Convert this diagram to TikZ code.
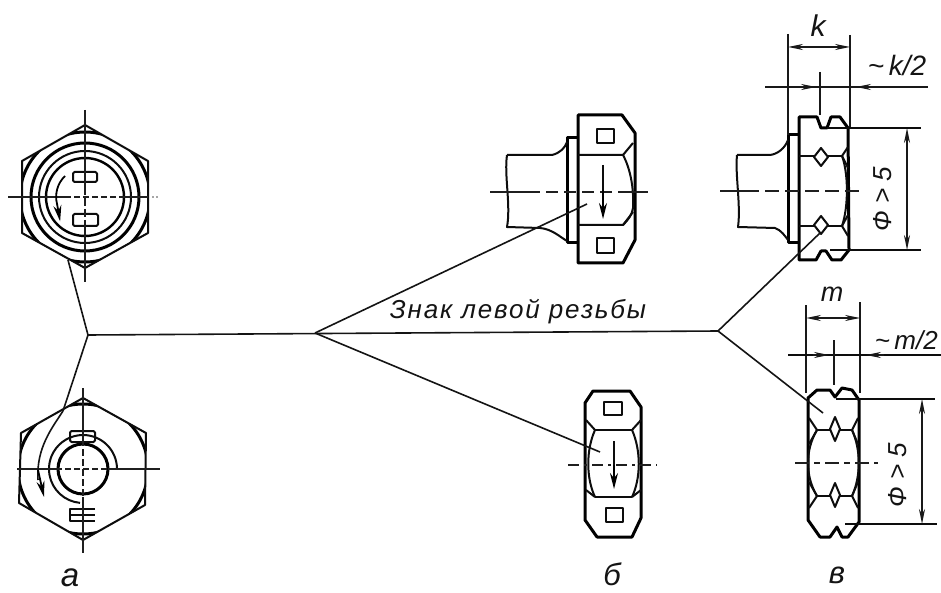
\documentclass[tikz,border=0pt]{standalone}
\usepackage{fontspec}
\setmainfont{Liberation Sans}
\usetikzlibrary{arrows.meta}
\tikzset{
  thin line/.style={line width=1.3pt,black!90},
  mid line/.style={line width=2pt,black!95,line join=round},
  thick line/.style={line width=3pt,black,line join=round},
  axis line/.style={line width=1.4pt,black!88},
  leader line/.style={line width=1.6pt,black!92},
  dim both/.style={line width=1.3pt,black!90,{Stealth[length=15pt,width=6pt]}-{Stealth[length=15pt,width=6pt]}},
  dim tip/.style={line width=1.3pt,black!90,-{Stealth[length=15pt,width=6pt]}},
  turn tip/.style={line width=1.8pt,black,-{Stealth[length=16pt,width=8pt]}},
  lbl/.style={font=\itshape,text=black!92,inner sep=0pt},
}
\begin{document}
\begin{tikzpicture}[x=1pt,y=-1pt]
\useasboundingbox (0,0) rectangle (941,593);
\fill[white] (0,0) rectangle (941,593);

% ---------- named leader junctions and ends
\coordinate (j1) at (88,335);
\coordinate (j2) at (315,333);
\coordinate (j3) at (718,331);
\coordinate (endA) at (68,260);
\coordinate (endB) at (63,411);
\coordinate (endC) at (587,204);
\coordinate (endD) at (600,452);
\coordinate (endE) at (820,233);
\coordinate (endF) at (823,413);

% ---------- upper nut (a)
\begin{scope}[shift={(85,197)}]
  \begin{scope}
    \clip (0,-72) -- (63,-36) -- (63,36) -- (0,71) -- (-63,36) -- (-63,-36) -- cycle;
    \draw[thick line] (0,0) circle (65);
  \end{scope}
  \draw[mid line] (0,-72) -- (63,-36) -- (63,36) -- (0,71) -- (-63,36) -- (-63,-36) -- cycle;
  \draw[thick line] (0,0) circle (54);
  \draw[mid line] (0,0) circle (46);
  \draw[thick line,line width=2.4pt] (0,0) circle (39);
  \draw[mid line,rounded corners=1.5pt] (-12,-25) rectangle (12,-15);
  \draw[mid line,rounded corners=1.5pt] (-12,17) rectangle (13,29);
  \draw[axis line] (-77,0) -- (-20,0);
  \draw[axis line,dash pattern=on 6pt off 3pt] (-20,0) -- (37,0);
  \draw[axis line] (37,0) -- (63,0);
  \fill[black!70] (68,0) circle (0.8) (72,0) circle (0.8);
  \draw[axis line] (0,-87) -- (0,-10);
  \draw[axis line,dash pattern=on 8pt off 3pt] (0,-10) -- (0,30);
  \draw[axis line] (0,30) -- (0,85);
  \draw[turn tip] (-20,-21) arc[start angle=226,end angle=165,radius=29] -- ++(3,17);
\end{scope}

% ---------- lower nut (a)
\begin{scope}[shift={(83,469)}]
  \begin{scope}
    \clip (0,-71) -- (63,-36) -- (62,36) -- (0,71) -- (-64,34) -- (-62,-36) -- cycle;
    \draw[thick line] (0,0) circle (65);
  \end{scope}
  \draw[mid line] (0,-71) -- (63,-36) -- (62,36) -- (0,71) -- (-64,34) -- (-62,-36) -- cycle;
  \draw[thick line] (0,0) circle (25);
  \draw[mid line] (34,0) arc[start angle=0,end angle=-190,radius=34] arc[start angle=170,end angle=95,radius=34];
  \draw[mid line,rounded corners=1.5pt] (-13,-38) rectangle (12,-27);
  \draw[mid line] (12,40) -- (-13,40) -- (-13,52) -- (12,52);
  \draw[mid line] (-13,46) -- (12,46);
  \draw[axis line] (-66,0) -- (-27,0);
  \draw[axis line,dash pattern=on 6pt off 3pt] (-27,0) -- (25,0);
  \draw[axis line] (25,0) -- (77,0);
  \draw[axis line] (0,-81) -- (0,-30);
  \draw[axis line,dash pattern=on 7pt off 3pt] (0,-30) -- (0,28);
  \draw[axis line] (0,28) -- (0,84);
\end{scope}
\draw[leader line] (endB) .. controls (52,428) and (36,448) .. (38,480);
\draw[turn tip] (38,470) -- (44,497);

% ---------- side view (б), upper
\draw[thick line] (578,115) -- (622,115) -- (635,133) -- (635,240) -- (623,263) -- (578,263) -- cycle;
\draw[mid line] (578,155) -- (623,155) -- (633,143);
\draw[mid line] (578,225) -- (623,225) -- (633,212);
\draw[mid line] (623,155) .. controls (631,170) and (634,190) .. (633,208) .. controls (632,215) and (628,220) .. (623,225);
\draw[mid line] (597,129) rectangle (614,143);
\draw[mid line] (597,238) rectangle (614,253);
\draw[thick line] (578,138) -- (567,138) -- (567,243) -- (578,243);
\draw[mid line] (507,155) -- (552,155) .. controls (560,153) and (565,148) .. (567,142);
\draw[mid line] (507,155) .. controls (504,175) and (511,205) .. (507,227) -- (540,228) .. controls (552,229) and (560,237) .. (567,241);
\draw[axis line] (490,192) -- (528,192);
\draw[axis line,dash pattern=on 12pt off 6pt] (528,192) -- (630,192);
\draw[axis line] (630,192) -- (648,192);
\draw[mid line] (603,165) -- (603,215);
\draw[turn tip] (603,190) -- (603,219);

% ---------- side view (б), lower
\draw[thick line] (593,391) -- (630,391) -- (641,407) -- (641,518) -- (632,537) -- (597,537) -- (585,520) -- (585,403) -- cycle;
\draw[mid line] (595,430) -- (632,430) (595,497) -- (632,497);
\draw[mid line] (586,420) -- (595,430) (641,420) -- (632,430);
\draw[mid line] (586,490) -- (595,497) (641,490) -- (632,497);
\draw[mid line] (595,430) .. controls (586,450) and (586,478) .. (595,497);
\draw[mid line] (632,430) .. controls (641,450) and (641,478) .. (632,497);
\draw[mid line] (604,402) rectangle (622,415);
\draw[mid line] (606,508) rectangle (623,522);
\draw[axis line,dash pattern=on 11pt off 5pt on 3pt off 5pt] (568,465) -- (657,465);
\draw[mid line] (614,441) -- (614,470);
\draw[turn tip] (614,465) -- (614,489);

% ---------- right upper view (в)
\draw[thick line] (799,117) -- (817,117) -- (821,128) -- (827,128) -- (831,117) -- (840,117) -- (848,128) -- (849,250) -- (841,260) -- (832,260) -- (826,251) -- (821,251) -- (816,260) -- (799,260) -- cycle;
\draw[mid line] (827,128) -- (849,128);
\draw[mid line] (830,250) -- (849,250);
\draw[mid line] (799,156) -- (814,156) (828,156) -- (842,156);
\draw[mid line] (799,226) -- (814,226) (828,226) -- (842,226);
\draw[mid line] (821,148) -- (828,157) -- (821,166) -- (814,157) -- cycle;
\draw[mid line] (821,216) -- (828,225) -- (821,234) -- (814,225) -- cycle;
\draw[mid line] (848,147) -- (842,156) -- (848,168);
\draw[mid line] (848,215) -- (842,226) -- (848,236);
\draw[mid line] (842,156) .. controls (848,172) and (849,205) .. (842,226);
\draw[thick line] (799,135) -- (788,135) -- (788,243) -- (799,243);
\draw[mid line] (737,155) -- (770,155) .. controls (778,154) and (785,148) .. (788,140);
\draw[mid line] (737,155) .. controls (735,175) and (741,205) .. (738,227) -- (775,228) .. controls (781,230) and (785,236) .. (788,240);
\draw[axis line] (720,191) -- (745,191);
\draw[axis line,dash pattern=on 14pt off 6pt] (745,191) -- (863,191);
% dimensions
\draw[thin line] (788,34) -- (788,135);
\draw[thin line] (850,35) -- (850,128);
\draw[dim both] (788,47) -- (850,47);
\draw[thin line] (765,87) -- (928,87);
\draw[dim tip] (797,87) -- (816,87);
\draw[dim tip] (872,87) -- (856,87);
\draw[thin line] (820,72) -- (820,115);
\draw[mid line] (849,128) -- (921,128);
\draw[mid line] (849,250) -- (921,250);
\draw[dim both,line width=1.8pt] (907,128) -- (907,250);
\node[lbl,font=\itshape\fontsize{30}{30}\selectfont] (lk) at (818,26) {k};
\node[lbl,font=\itshape\fontsize{28}{28}\selectfont] (lk2) at (897,65) {\textasciitilde\,k/2};
\node[lbl,font=\itshape\fontsize{26}{26}\selectfont,rotate=90] (lf1) at (883,199) {Ф > 5};

% ---------- right lower view (в)
\draw[thick line] (808,398) -- (817,390) -- (830,390) -- (835,397) -- (842,388) -- (852,390) -- (859,400) -- (859,522) -- (848,537) -- (842,537) -- (837,527) -- (830,537) -- (820,537) -- (808,520) -- cycle;
\draw[mid line] (836,399) -- (859,399);
\draw[mid line] (845,524) -- (859,524);
\draw[mid line] (817,430) -- (830,430) (840,430) -- (852,430);
\draw[mid line] (817,496) -- (830,496) (840,496) -- (852,496);
\draw[mid line] (835,417) -- (840,429) -- (835,441) -- (830,429) -- cycle;
\draw[mid line] (835,483) -- (840,495) -- (835,507) -- (830,495) -- cycle;
\draw[mid line] (809,418) -- (817,430) -- (809,444) (858,418) -- (852,430) -- (858,444);
\draw[mid line] (809,482) -- (817,496) -- (809,508) (858,482) -- (852,496) -- (858,508);
\draw[mid line] (817,430) .. controls (805,450) and (805,476) .. (817,496);
\draw[mid line] (852,430) .. controls (861,450) and (861,476) .. (852,496);
\draw[axis line,dash pattern=on 14pt off 5pt on 6pt off 5pt] (795,463) -- (878,463);
% dimensions
\draw[thin line] (806,305) -- (806,393);
\draw[thin line] (860,302) -- (860,393);
\draw[dim both] (806,318) -- (860,318);
\draw[mid line] (788,355) -- (941,355);
\draw[dim tip] (813,355) -- (829,355);
\draw[dim tip] (884,355) -- (866,355);
\draw[thin line] (834,340) -- (834,385);
\draw[mid line] (859,399) -- (935,399);
\draw[mid line] (859,524) -- (937,524);
\draw[dim both,line width=1.8pt] (922,399) -- (922,524);
\node[lbl,font=\itshape\fontsize{27}{27}\selectfont] (lm) at (832,294) {m};
\node[lbl,anchor=east,font=\itshape\fontsize{26}{26}\selectfont] (lm2) at (938,340) {\textasciitilde\,m/2};
\node[lbl,font=\itshape\fontsize{26}{26}\selectfont,rotate=90] (lf2) at (898,475) {Ф > 5};

% ---------- leaders, node to node
\draw[leader line] (j1) -- (j3);
\draw[leader line] (j1) -- (endA);
\draw[leader line] (j1) -- (endB);
\draw[leader line] (j2) -- (endC);
\draw[leader line] (j2) -- (endD);
\draw[leader line] (j3) -- (endE);
\draw[leader line] (j3) -- (endF);

% ---------- texts
\node[lbl,font=\itshape\fontsize{26}{26}\addfontfeature{LetterSpace=7}\selectfont] (sign) at (518,312) {Знак левой резьбы};
\node[lbl,font=\itshape\fontsize{33}{33}\selectfont] (la) at (70,578) {а};
\node[lbl,font=\itshape\fontsize{31}{31}\selectfont] (lb) at (612,574) {б};
\node[lbl,font=\itshape\fontsize{31}{31}\selectfont] (lc) at (837,575) {в};
\end{tikzpicture}
\end{document}
